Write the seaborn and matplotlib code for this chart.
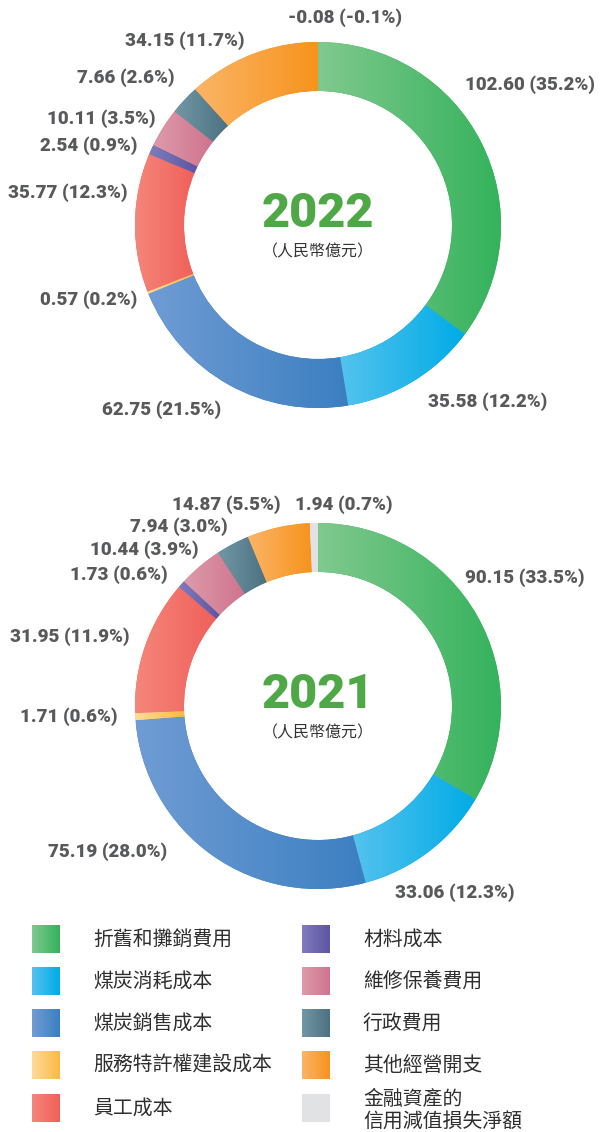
import numpy as np
import matplotlib
matplotlib.use("Agg")
import matplotlib.pyplot as plt
import seaborn as sns
from matplotlib.colors import LinearSegmentedColormap
from matplotlib.patches import Rectangle

sns.set_theme(style="white")
plt.rcParams['font.family'] = ['Noto Sans CJK TC', 'DejaVu Sans']

# ---------------- data ----------------
categories = ["折舊和攤銷費用", "煤炭消耗成本", "煤炭銷售成本", "服務特許權建設成本", "員工成本",
              "材料成本", "維修保養費用", "行政費用", "其他經營開支", "金融資產的\n信用減值損失淨額"]
values_2022 = [102.60, 35.58, 62.75, 0.57, 35.77, 2.54, 10.11, 7.66, 34.15, -0.08]
pct_2022 = [35.2, 12.2, 21.5, 0.2, 12.3, 0.9, 3.5, 2.6, 11.7, -0.1]
values_2021 = [90.15, 33.06, 75.19, 1.71, 31.95, 1.73, 10.44, 7.94, 14.87, 1.94]
pct_2021 = [33.5, 12.3, 28.0, 0.6, 11.9, 0.6, 3.9, 3.0, 5.5, 0.7]
years = ["2022", "2021"]
unit = "（人民幣億元）"

# ---------------- style ----------------
grads = [("#80c98e", "#34b25c"), ("#55c2ee", "#00ace6"), ("#709cd4", "#3b7fc1"),
         ("#fedc98", "#fbb943"), ("#f5867a", "#f0605a"), ("#807cbc", "#5c55a3"),
         ("#dd9baa", "#d0738f"), ("#7296a4", "#4b7282"), ("#fbb567", "#f7931d"),
         ("#e1e2e4", "#e1e2e4")]
label_color = "#58595b"
W, H = 600, 1132
R, RW = 183, 49
centers = [(318, 225), (318, 706)]
# label layout (left x, centre y in pixel coords from top)
label_pos = [
    [(465, 85), (428, 402), (102, 410), (40, 300), (8, 193), (40, 146), (47, 119), (77, 78), (125, 41), (288, 18)],
    [(465, 578), (395, 893), (48, 852), (20, 717), (10, 637), (70, 575), (90, 550), (130, 527), (172, 505), (295, 505)],
]

fig = plt.figure(figsize=(W / 100, H / 100), dpi=100)
ax = fig.add_axes([0, 0, 1, 1])


def Y(y):
    return H - y


def grad_fill(patch, c1, c2, extent):
    cmap = LinearSegmentedColormap.from_list("g", [c1, c2])
    img = np.linspace(0, 1, 256).reshape(1, -1)
    im = ax.imshow(img, cmap=cmap, extent=extent, aspect='equal',
                   interpolation='bilinear', zorder=patch.get_zorder() + 0.1)
    im.set_clip_path(patch)


for k, (vals, pcts, yr) in enumerate(zip([values_2022, values_2021], [pct_2022, pct_2021], years)):
    cx, cy = centers[k]
    draw_vals = [max(v, 0) for v in vals]
    wedges, _ = ax.pie(draw_vals, radius=R, center=(cx, Y(cy)), startangle=90,
                       counterclock=False, colors=[g[1] for g in grads],
                       wedgeprops=dict(width=RW, linewidth=0), frame=True)
    for w, v, (c1, c2) in zip(wedges, draw_vals, grads):
        if v <= 0:
            continue
        bb = w.get_path().get_extents()
        grad_fill(w, c1, c2, [bb.x0, bb.x1, bb.y0, bb.y1])
    for (lx, ly), v, p in zip(label_pos[k], vals, pcts):
        ax.text(lx, Y(ly), f"{v:.2f} ({p:.1f}%)", ha='left', va='center',
                fontsize=13.5, fontweight='black', color=label_color, family=['Roboto', 'DejaVu Sans'])
    ax.text(cx, Y(cy - 11), yr, ha='center', va='center', fontsize=35, fontweight='black',
            color="#4ea846", family=['Roboto', 'DejaVu Sans'])
    ax.text(cx, Y(cy + 27), unit, ha='center', va='center', fontsize=11.5, color="#333333")

# ---------------- legend ----------------
rows_y = [939, 981, 1023, 1065, 1108]
cols = [(32, 93), (302, 363)]
for i, (name, (c1, c2)) in enumerate(zip(categories, grads)):
    col, row = divmod(i, 5)
    sx, tx = cols[col]
    yc = rows_y[row]
    rect = Rectangle((sx, Y(yc + 14)), 28, 28, facecolor=c2, edgecolor='none')
    ax.add_patch(rect)
    grad_fill(rect, c1, c2, [sx, sx + 28, Y(yc + 14), Y(yc - 14)])
    if "\n" in name:
        ax.text(tx, Y(yc + 3), name, ha='left', va='center', fontsize=14.3, color="#2e2e2e",
                linespacing=1.15)
    else:
        ax.text(tx, Y(yc), name, ha='left', va='center', fontsize=14.3, color="#2e2e2e")

ax.set_xlim(0, W)
ax.set_ylim(0, H)
ax.set_aspect('equal')
ax.set_axis_off()
fig.savefig("out.png", dpi=100, facecolor="white")
